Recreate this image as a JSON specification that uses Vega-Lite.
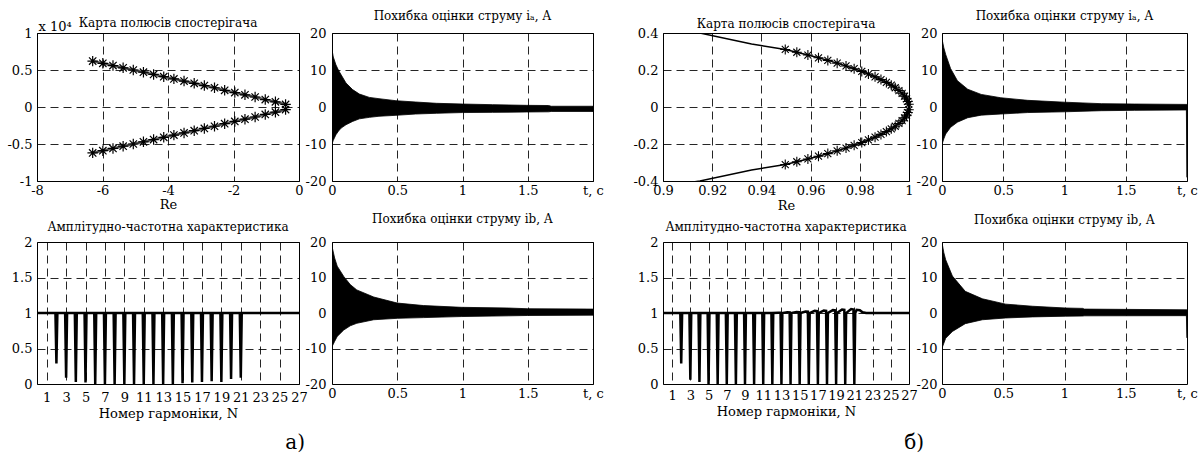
{
"$schema": "https://vega.github.io/schema/vega-lite/v6.json",
"background": "white",
"padding": {"left": 6, "top": 9, "right": 2, "bottom": 2},
"bounds": "flush",
"align": "each",
"columns": 5,
"spacing": {"row": 61, "column": 33},
"config": {
  "font": "DejaVu Serif",
  "view": {"stroke": "black", "strokeWidth": 1},
  "axis": {"domain": false, "ticks": false, "tickSize": 0, "grid": true, "gridColor": "black", "gridDash": [8, 5], "gridWidth": 1, "gridOpacity": 0.85,
    "labelFont": "DejaVu Serif", "labelFontSize": 13, "labelColor": "black", "labelPadding": 4, "labelFlush": false, "labelOverlap": false,
    "titleFont": "DejaVu Serif", "titleFontSize": 13, "titleFontWeight": "normal", "titleColor": "black", "titlePadding": 2},
  "title": {"font": "DejaVu Serif", "fontSize": 12, "fontWeight": "normal", "color": "black", "anchor": "middle"}
},
"datasets": {
  "poleA": [
    {"re": -6.30, "im": 0.62, "b": "u"}, {"re": -5.99, "im": 0.59, "b": "u"}, {"re": -5.68, "im": 0.56, "b": "u"}, {"re": -5.37, "im": 0.53, "b": "u"},
    {"re": -5.06, "im": 0.50, "b": "u"}, {"re": -4.75, "im": 0.47, "b": "u"}, {"re": -4.44, "im": 0.44, "b": "u"}, {"re": -4.13, "im": 0.41, "b": "u"},
    {"re": -3.82, "im": 0.38, "b": "u"}, {"re": -3.51, "im": 0.35, "b": "u"}, {"re": -3.20, "im": 0.32, "b": "u"}, {"re": -2.89, "im": 0.29, "b": "u"},
    {"re": -2.58, "im": 0.26, "b": "u"}, {"re": -2.27, "im": 0.225, "b": "u"}, {"re": -1.96, "im": 0.195, "b": "u"}, {"re": -1.65, "im": 0.165, "b": "u"},
    {"re": -1.34, "im": 0.135, "b": "u"}, {"re": -1.03, "im": 0.10, "b": "u"}, {"re": -0.72, "im": 0.07, "b": "u"}, {"re": -0.41, "im": 0.035, "b": "u"},
    {"re": -6.30, "im": -0.62, "b": "l"}, {"re": -5.99, "im": -0.59, "b": "l"}, {"re": -5.68, "im": -0.56, "b": "l"}, {"re": -5.37, "im": -0.53, "b": "l"},
    {"re": -5.06, "im": -0.50, "b": "l"}, {"re": -4.75, "im": -0.47, "b": "l"}, {"re": -4.44, "im": -0.44, "b": "l"}, {"re": -4.13, "im": -0.41, "b": "l"},
    {"re": -3.82, "im": -0.38, "b": "l"}, {"re": -3.51, "im": -0.35, "b": "l"}, {"re": -3.20, "im": -0.32, "b": "l"}, {"re": -2.89, "im": -0.29, "b": "l"},
    {"re": -2.58, "im": -0.26, "b": "l"}, {"re": -2.27, "im": -0.225, "b": "l"}, {"re": -1.96, "im": -0.195, "b": "l"}, {"re": -1.65, "im": -0.165, "b": "l"},
    {"re": -1.34, "im": -0.135, "b": "l"}, {"re": -1.03, "im": -0.10, "b": "l"}, {"re": -0.72, "im": -0.07, "b": "l"}, {"re": -0.41, "im": -0.035, "b": "l"}
  ],
  "poleB": [
    {"o": 0, "re": 0.905, "im": 0.42, "s": 0}, {"o": 1, "re": 0.915, "im": 0.40, "s": 0}, {"o": 2, "re": 0.936, "im": 0.34, "s": 0},
    {"o": 3, "re": 0.9497, "im": 0.311, "s": 1}, {"o": 4, "re": 0.9544, "im": 0.296, "s": 1}, {"o": 5, "re": 0.9589, "im": 0.281, "s": 1},
    {"o": 6, "re": 0.9632, "im": 0.266, "s": 1}, {"o": 7, "re": 0.9670, "im": 0.252, "s": 1}, {"o": 8, "re": 0.9708, "im": 0.237, "s": 1},
    {"o": 9, "re": 0.9744, "im": 0.222, "s": 1}, {"o": 10, "re": 0.9777, "im": 0.207, "s": 1}, {"o": 11, "re": 0.9808, "im": 0.192, "s": 1},
    {"o": 12, "re": 0.9835, "im": 0.178, "s": 1}, {"o": 13, "re": 0.9862, "im": 0.163, "s": 1}, {"o": 14, "re": 0.9886, "im": 0.148, "s": 1},
    {"o": 15, "re": 0.9908, "im": 0.133, "s": 1}, {"o": 16, "re": 0.9928, "im": 0.118, "s": 1}, {"o": 17, "re": 0.9944, "im": 0.104, "s": 1},
    {"o": 18, "re": 0.9959, "im": 0.089, "s": 1}, {"o": 19, "re": 0.9972, "im": 0.074, "s": 1}, {"o": 20, "re": 0.9982, "im": 0.059, "s": 1},
    {"o": 21, "re": 0.9990, "im": 0.044, "s": 1}, {"o": 22, "re": 0.9995, "im": 0.030, "s": 1}, {"o": 23, "re": 0.9999, "im": 0.015, "s": 1},
    {"o": 24, "re": 1.0, "im": 0.0, "s": 0},
    {"o": 25, "re": 0.9999, "im": -0.015, "s": 1}, {"o": 26, "re": 0.9995, "im": -0.030, "s": 1}, {"o": 27, "re": 0.9990, "im": -0.044, "s": 1},
    {"o": 28, "re": 0.9982, "im": -0.059, "s": 1}, {"o": 29, "re": 0.9972, "im": -0.074, "s": 1}, {"o": 30, "re": 0.9959, "im": -0.089, "s": 1},
    {"o": 31, "re": 0.9944, "im": -0.104, "s": 1}, {"o": 32, "re": 0.9928, "im": -0.118, "s": 1}, {"o": 33, "re": 0.9908, "im": -0.133, "s": 1},
    {"o": 34, "re": 0.9886, "im": -0.148, "s": 1}, {"o": 35, "re": 0.9862, "im": -0.163, "s": 1}, {"o": 36, "re": 0.9835, "im": -0.178, "s": 1},
    {"o": 37, "re": 0.9808, "im": -0.192, "s": 1}, {"o": 38, "re": 0.9777, "im": -0.207, "s": 1}, {"o": 39, "re": 0.9744, "im": -0.222, "s": 1},
    {"o": 40, "re": 0.9708, "im": -0.237, "s": 1}, {"o": 41, "re": 0.9670, "im": -0.252, "s": 1}, {"o": 42, "re": 0.9632, "im": -0.266, "s": 1},
    {"o": 43, "re": 0.9589, "im": -0.281, "s": 1}, {"o": 44, "re": 0.9544, "im": -0.296, "s": 1}, {"o": 45, "re": 0.9497, "im": -0.311, "s": 1},
    {"o": 46, "re": 0.936, "im": -0.34, "s": 0}, {"o": 47, "re": 0.915, "im": -0.40, "s": 0}, {"o": 48, "re": 0.905, "im": -0.42, "s": 0}
  ],
  "afcA": [
    {"n": 0, "a": 1},
    {"n": 1.9, "a": 1}, {"n": 2, "a": 0.29}, {"n": 2.1, "a": 1},
    {"n": 2.9, "a": 1}, {"n": 3, "a": 0.09}, {"n": 3.1, "a": 1},
    {"n": 3.9, "a": 1}, {"n": 4, "a": 0.03}, {"n": 4.1, "a": 1},
    {"n": 4.9, "a": 1}, {"n": 5, "a": 0.02}, {"n": 5.1, "a": 1},
    {"n": 5.9, "a": 1}, {"n": 6, "a": 0}, {"n": 6.1, "a": 1},
    {"n": 6.9, "a": 1}, {"n": 7, "a": 0}, {"n": 7.1, "a": 1},
    {"n": 7.9, "a": 1}, {"n": 8, "a": 0}, {"n": 8.1, "a": 1},
    {"n": 8.9, "a": 1}, {"n": 9, "a": 0}, {"n": 9.1, "a": 1},
    {"n": 9.9, "a": 1}, {"n": 10, "a": 0}, {"n": 10.1, "a": 1},
    {"n": 10.9, "a": 1}, {"n": 11, "a": 0}, {"n": 11.1, "a": 1},
    {"n": 11.9, "a": 1}, {"n": 12, "a": 0}, {"n": 12.1, "a": 1},
    {"n": 12.9, "a": 1}, {"n": 13, "a": 0}, {"n": 13.1, "a": 1},
    {"n": 13.9, "a": 1}, {"n": 14, "a": 0}, {"n": 14.1, "a": 1},
    {"n": 14.9, "a": 1}, {"n": 15, "a": 0.01}, {"n": 15.1, "a": 1},
    {"n": 15.9, "a": 1}, {"n": 16, "a": 0.02}, {"n": 16.1, "a": 1},
    {"n": 16.9, "a": 1}, {"n": 17, "a": 0.03}, {"n": 17.1, "a": 1},
    {"n": 17.9, "a": 1}, {"n": 18, "a": 0.04}, {"n": 18.1, "a": 1},
    {"n": 18.9, "a": 1}, {"n": 19, "a": 0.03}, {"n": 19.1, "a": 1},
    {"n": 19.9, "a": 1}, {"n": 20, "a": 0.07}, {"n": 20.1, "a": 1},
    {"n": 20.9, "a": 1}, {"n": 21, "a": 0.09}, {"n": 21.1, "a": 1},
    {"n": 27, "a": 1}
  ],
  "afcB": [
    {"n": 0, "a": 1},
    {"n": 1.9, "a": 1}, {"n": 2, "a": 0.29}, {"n": 2.1, "a": 1},
    {"n": 2.9, "a": 1}, {"n": 3, "a": 0.06}, {"n": 3.1, "a": 1},
    {"n": 3.9, "a": 1}, {"n": 4, "a": 0.03}, {"n": 4.1, "a": 1},
    {"n": 4.9, "a": 1}, {"n": 5, "a": 0}, {"n": 5.1, "a": 1},
    {"n": 5.9, "a": 1}, {"n": 6, "a": 0}, {"n": 6.1, "a": 1},
    {"n": 6.9, "a": 1}, {"n": 7, "a": 0}, {"n": 7.1, "a": 1},
    {"n": 7.9, "a": 1}, {"n": 8, "a": 0}, {"n": 8.1, "a": 1},
    {"n": 8.9, "a": 1}, {"n": 9, "a": 0}, {"n": 9.1, "a": 1},
    {"n": 9.9, "a": 1}, {"n": 10, "a": 0}, {"n": 10.1, "a": 1},
    {"n": 10.9, "a": 1}, {"n": 11, "a": 0}, {"n": 11.1, "a": 1},
    {"n": 11.9, "a": 1}, {"n": 12, "a": 0}, {"n": 12.1, "a": 1},
    {"n": 12.65, "a": 1.005}, {"n": 12.9, "a": 1.004}, {"n": 13, "a": 0}, {"n": 13.1, "a": 1},
    {"n": 13.65, "a": 1.01}, {"n": 13.9, "a": 1.009}, {"n": 14, "a": 0}, {"n": 14.1, "a": 1},
    {"n": 14.65, "a": 1.015}, {"n": 14.9, "a": 1.013}, {"n": 15, "a": 0}, {"n": 15.1, "a": 1},
    {"n": 15.65, "a": 1.02}, {"n": 15.9, "a": 1.018}, {"n": 16, "a": 0}, {"n": 16.1, "a": 1},
    {"n": 16.65, "a": 1.03}, {"n": 16.9, "a": 1.027}, {"n": 17, "a": 0}, {"n": 17.1, "a": 1},
    {"n": 17.65, "a": 1.035}, {"n": 17.9, "a": 1.031}, {"n": 18, "a": 0}, {"n": 18.1, "a": 1},
    {"n": 18.65, "a": 1.04}, {"n": 18.9, "a": 1.036}, {"n": 19, "a": 0}, {"n": 19.1, "a": 1},
    {"n": 19.65, "a": 1.05}, {"n": 19.9, "a": 1.045}, {"n": 20, "a": 0}, {"n": 20.1, "a": 1},
    {"n": 20.65, "a": 1.055}, {"n": 20.9, "a": 1.05}, {"n": 21, "a": 0}, {"n": 21.1, "a": 1},
    {"n": 21.25, "a": 1.045}, {"n": 21.6, "a": 1.04}, {"n": 21.9, "a": 1.01}, {"n": 22.3, "a": 1.0},
    {"n": 27, "a": 1}
  ],
  "iaA": [
    {"t": 0.0, "hi": 15.5, "lo": -10.0}, {"t": 0.01, "hi": 13.5, "lo": -9.0}, {"t": 0.03, "hi": 11.4, "lo": -7.5},
    {"t": 0.05, "hi": 9.9, "lo": -6.5}, {"t": 0.07, "hi": 8.7, "lo": -5.7}, {"t": 0.107, "hi": 6.5, "lo": -4.8},
    {"t": 0.158, "hi": 4.7, "lo": -3.9}, {"t": 0.21, "hi": 3.5, "lo": -3.2}, {"t": 0.286, "hi": 2.6, "lo": -2.8},
    {"t": 0.36, "hi": 2.25, "lo": -2.5}, {"t": 0.49, "hi": 1.7, "lo": -2.25}, {"t": 0.64, "hi": 1.35, "lo": -1.9},
    {"t": 0.8, "hi": 1.0, "lo": -1.7}, {"t": 1.0, "hi": 0.8, "lo": -1.5}, {"t": 1.23, "hi": 0.63, "lo": -1.45},
    {"t": 1.49, "hi": 0.45, "lo": -1.35}, {"t": 1.66, "hi": 0.4, "lo": -1.3}, {"t": 1.68, "hi": 0.2, "lo": -1.2},
    {"t": 2.0, "hi": 0.2, "lo": -1.2}
  ],
  "ibA": [
    {"t": 0.0, "hi": 18.8, "lo": -9.5}, {"t": 0.02, "hi": 15.5, "lo": -8.0}, {"t": 0.04, "hi": 13.2, "lo": -6.6},
    {"t": 0.09, "hi": 10.3, "lo": -4.8}, {"t": 0.14, "hi": 8.0, "lo": -3.6}, {"t": 0.19, "hi": 6.5, "lo": -2.9},
    {"t": 0.32, "hi": 4.5, "lo": -1.9}, {"t": 0.5, "hi": 2.8, "lo": -1.5}, {"t": 0.7, "hi": 2.1, "lo": -1.3},
    {"t": 0.99, "hi": 1.6, "lo": -1.0}, {"t": 1.35, "hi": 1.4, "lo": -0.8}, {"t": 1.5, "hi": 1.2, "lo": -0.7},
    {"t": 2.0, "hi": 1.1, "lo": -0.6}
  ],
  "iaB": [
    {"t": 0.0, "hi": 18.4, "lo": -10.1}, {"t": 0.015, "hi": 16.0, "lo": -8.6}, {"t": 0.03, "hi": 14.2, "lo": -7.3},
    {"t": 0.07, "hi": 10.4, "lo": -5.5}, {"t": 0.126, "hi": 7.1, "lo": -4.1}, {"t": 0.21, "hi": 4.8, "lo": -2.9},
    {"t": 0.32, "hi": 3.4, "lo": -2.2}, {"t": 0.48, "hi": 2.5, "lo": -1.9}, {"t": 0.7, "hi": 1.8, "lo": -1.5},
    {"t": 1.0, "hi": 1.3, "lo": -1.3}, {"t": 1.3, "hi": 0.9, "lo": -1.0}, {"t": 1.57, "hi": 0.8, "lo": -0.9},
    {"t": 1.995, "hi": 0.7, "lo": -0.8}, {"t": 2.0, "hi": 0.7, "lo": -19.0}
  ],
  "ibB": [
    {"t": 0.0, "hi": 19.8, "lo": -9.9}, {"t": 0.015, "hi": 17.0, "lo": -8.5}, {"t": 0.03, "hi": 15.0, "lo": -7.1},
    {"t": 0.085, "hi": 10.4, "lo": -5.2}, {"t": 0.19, "hi": 6.1, "lo": -3.0}, {"t": 0.33, "hi": 4.0, "lo": -1.9},
    {"t": 0.52, "hi": 2.5, "lo": -1.4}, {"t": 0.74, "hi": 1.9, "lo": -1.1}, {"t": 1.01, "hi": 1.4, "lo": -0.9},
    {"t": 1.15, "hi": 1.3, "lo": -0.85}, {"t": 1.16, "hi": 1.1, "lo": -0.8}, {"t": 1.995, "hi": 0.9, "lo": -0.75},
    {"t": 2.0, "hi": 0.9, "lo": -7.0}
  ]
},
"concat": [
  {
    "width": 262, "height": 148,
    "title": {"text": "Карта полюсів спостерігача", "offset": -10},
    "data": {"name": "poleA"},
    "encoding": {
      "x": {"field": "re", "type": "quantitative", "scale": {"domain": [-8, 0], "nice": false, "zero": false},
        "axis": {"title": "Re", "values": [-8, -6, -4, -2, 0], "labelExpr": "datum.value + ''", "labelPadding": 3, "titlePadding": 1}},
      "y": {"field": "im", "type": "quantitative", "scale": {"domain": [-1, 1], "nice": false, "zero": false},
        "axis": {"title": "x 10⁴", "values": [-1, -0.5, 0, 0.5, 1], "labelExpr": "datum.value + ''", "labelPadding": 5,
          "titleAngle": 0, "titleAlign": "left", "titleBaseline": "alphabetic", "titleX": 1, "titleY": -3}}
    },
    "layer": [
      {"mark": {"type": "line", "color": "#555555", "strokeWidth": 2.5}, "encoding": {"detail": {"field": "b"}}},
      {"mark": {"type": "point", "shape": "M-1,0L1,0M0,-1L0,1M-0.7,-0.7L0.7,0.7M-0.7,0.7L0.7,-0.7", "size": 110, "filled": false, "color": "black", "strokeWidth": 1.2, "opacity": 1}}
    ]
  },
  {
    "width": 261, "height": 148,
    "title": {"text": "Похибка оцінки струму iₐ, А", "offset": 4},
    "data": {"name": "iaA"},
    "mark": {"type": "area", "color": "black", "stroke": "black", "strokeWidth": 0.8, "clip": true},
    "encoding": {
      "x": {"field": "t", "type": "quantitative", "scale": {"domain": [0, 2], "nice": false, "zero": false},
        "axis": {"title": null, "values": [0, 0.5, 1, 1.5, 2], "labelExpr": "datum.value == 2 ? 't, c' : datum.value + ''", "labelPadding": 3}},
      "y": {"field": "hi", "type": "quantitative", "scale": {"domain": [-20, 20], "nice": false, "zero": false},
        "axis": {"title": null, "values": [-20, -10, 0, 10, 20], "labelExpr": "datum.value + ''", "labelPadding": 6}},
      "y2": {"field": "lo"}
    }
  },
  {"width": 4, "height": 148, "data": {"values": []}, "mark": "text", "view": {"stroke": null}},
  {
    "width": 246, "height": 148,
    "title": {"text": "Карта полюсів спостерігача", "offset": -4},
    "data": {"name": "poleB"},
    "encoding": {
      "x": {"field": "re", "type": "quantitative", "scale": {"domain": [0.9, 1], "nice": false, "zero": false},
        "axis": {"title": "Re", "values": [0.9, 0.92, 0.94, 0.96, 0.98, 1], "labelExpr": "datum.value + ''", "labelPadding": 3, "titlePadding": 2}},
      "y": {"field": "im", "type": "quantitative", "scale": {"domain": [-0.4, 0.4], "nice": false, "zero": false},
        "axis": {"title": null, "values": [-0.4, -0.2, 0, 0.2, 0.4], "labelExpr": "datum.value + ''", "labelPadding": 5}}
    },
    "layer": [
      {"mark": {"type": "line", "color": "black", "strokeWidth": 1.5, "clip": true}, "encoding": {"order": {"field": "o", "type": "quantitative"}}},
      {"transform": [{"filter": "datum.s == 1"}],
       "mark": {"type": "point", "shape": "M-1,0L1,0M0,-1L0,1M-0.7,-0.7L0.7,0.7M-0.7,0.7L0.7,-0.7", "size": 100, "filled": false, "color": "black", "strokeWidth": 1.1, "opacity": 1}}
    ]
  },
  {
    "width": 245, "height": 148,
    "title": {"text": "Похибка оцінки струму iₐ, А", "offset": 4},
    "data": {"name": "iaB"},
    "mark": {"type": "area", "color": "black", "stroke": "black", "strokeWidth": 0.8, "clip": true},
    "encoding": {
      "x": {"field": "t", "type": "quantitative", "scale": {"domain": [0, 2], "nice": false, "zero": false},
        "axis": {"title": null, "values": [0, 0.5, 1, 1.5, 2], "labelExpr": "datum.value == 2 ? 't, c' : datum.value + ''", "labelPadding": 3}},
      "y": {"field": "hi", "type": "quantitative", "scale": {"domain": [-20, 20], "nice": false, "zero": false},
        "axis": {"title": null, "values": [-20, -10, 0, 10, 20], "labelExpr": "datum.value + ''", "labelPadding": 5}},
      "y2": {"field": "lo"}
    }
  },
  {
    "width": 262, "height": 142,
    "title": {"text": "Амплітудно-частотна характеристика", "offset": 2},
    "data": {"name": "afcA"},
    "mark": {"type": "line", "color": "black", "strokeWidth": 2.5},
    "encoding": {
      "x": {"field": "n", "type": "quantitative", "scale": {"domain": [0, 27], "nice": false, "zero": false},
        "axis": {"title": "Номер гармоніки, N", "values": [1, 3, 5, 7, 9, 11, 13, 15, 17, 19, 21, 23, 25, 27], "labelExpr": "datum.value + ''", "labelPadding": 7, "titlePadding": 3}},
      "y": {"field": "a", "type": "quantitative", "scale": {"domain": [0, 2], "nice": false, "zero": false},
        "axis": {"title": null, "values": [0, 0.5, 1, 1.5, 2], "labelExpr": "datum.value + ''", "labelPadding": 5}}
    }
  },
  {
    "width": 261, "height": 142,
    "title": {"text": "Похибка оцінки струму ib, А", "offset": 10},
    "data": {"name": "ibA"},
    "mark": {"type": "area", "color": "black", "stroke": "black", "strokeWidth": 0.8, "clip": true},
    "encoding": {
      "x": {"field": "t", "type": "quantitative", "scale": {"domain": [0, 2], "nice": false, "zero": false},
        "axis": {"title": null, "values": [0, 0.5, 1, 1.5, 2], "labelExpr": "datum.value == 2 ? 't, c' : datum.value + ''", "labelPadding": 3}},
      "y": {"field": "hi", "type": "quantitative", "scale": {"domain": [-20, 20], "nice": false, "zero": false},
        "axis": {"title": null, "values": [-20, -10, 0, 10, 20], "labelExpr": "datum.value + ''", "labelPadding": 6}},
      "y2": {"field": "lo"}
    }
  },
  {"width": 4, "height": 142, "data": {"values": []}, "mark": "text", "view": {"stroke": null}},
  {
    "width": 246, "height": 142,
    "title": {"text": "Амплітудно-частотна характеристика", "offset": 2},
    "data": {"name": "afcB"},
    "mark": {"type": "line", "color": "black", "strokeWidth": 2.5},
    "encoding": {
      "x": {"field": "n", "type": "quantitative", "scale": {"domain": [0, 27], "nice": false, "zero": false},
        "axis": {"title": "Номер гармоніки, N", "values": [1, 3, 5, 7, 9, 11, 13, 15, 17, 19, 21, 23, 25, 27], "labelExpr": "datum.value + ''", "labelPadding": 5, "titlePadding": 3}},
      "y": {"field": "a", "type": "quantitative", "scale": {"domain": [0, 2], "nice": false, "zero": false},
        "axis": {"title": null, "values": [0, 0.5, 1, 1.5, 2], "labelExpr": "datum.value + ''", "labelPadding": 5}}
    }
  },
  {
    "width": 245, "height": 142,
    "title": {"text": "Похибка оцінки струму ib, А", "offset": 9},
    "data": {"name": "ibB"},
    "mark": {"type": "area", "color": "black", "stroke": "black", "strokeWidth": 0.8, "clip": true},
    "encoding": {
      "x": {"field": "t", "type": "quantitative", "scale": {"domain": [0, 2], "nice": false, "zero": false},
        "axis": {"title": null, "values": [0, 0.5, 1, 1.5, 2], "labelExpr": "datum.value == 2 ? 't, c' : datum.value + ''", "labelPadding": 3}},
      "y": {"field": "hi", "type": "quantitative", "scale": {"domain": [-20, 20], "nice": false, "zero": false},
        "axis": {"title": null, "values": [-20, -10, 0, 10, 20], "labelExpr": "datum.value + ''", "labelPadding": 5}},
      "y2": {"field": "lo"}
    }
  },
  {"width": 262, "height": 1, "data": {"values": []}, "mark": "text", "view": {"stroke": null},
   "title": {"text": "а)", "anchor": "end", "fontSize": 20, "offset": -8, "dx": 6}},
  {"width": 261, "height": 1, "data": {"values": []}, "mark": "text", "view": {"stroke": null}},
  {"width": 4, "height": 1, "data": {"values": []}, "mark": "text", "view": {"stroke": null}},
  {"width": 246, "height": 1, "data": {"values": []}, "mark": "text", "view": {"stroke": null},
   "title": {"text": "б)", "anchor": "end", "fontSize": 20, "offset": -8, "dx": 15}}
]
}
